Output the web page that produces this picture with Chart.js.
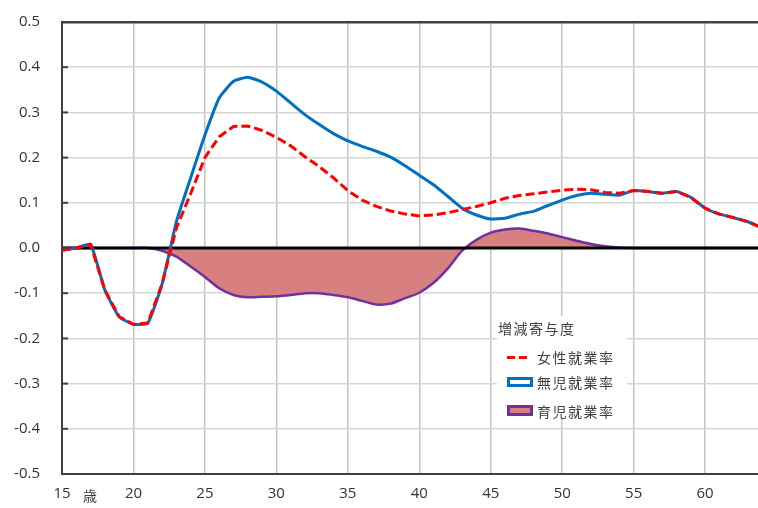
<!DOCTYPE html>
<html>
<head>
<meta charset="utf-8">
<script src="https://cdn.jsdelivr.net/npm/chart.js@4"></script>
<style>
  body { margin: 0; background: #fff; }
  #wrap { position: relative; width: 758px; height: 508px; }
  #c { display: block; }
  #legend {
    position: absolute; left: 497px; top: 316px; width: 130px; height: 102px;
    background: #fff; font-family: "Noto Sans CJK JP", sans-serif; font-size: 14px; color: #404040;
  }
  #legend .title { position: absolute; left: 1px; top: 2px; letter-spacing: 1.5px; }
  #legend .item { position: absolute; left: 40px; letter-spacing: 1.5px; line-height: 16px; }
  #legend .sym { position: absolute; left: 10px; box-sizing: border-box; }
  .unit { position: absolute; left: 83px; top: 485px; font-family: "Noto Sans CJK JP", sans-serif; font-size: 14px; color: #404040; }
</style>
</head>
<body>
<div id="wrap">
  <canvas id="c" width="758" height="508"></canvas>
  <span class="unit">歳</span>
  <div id="legend">
    <div class="title">増減寄与度</div>
    <div class="sym" style="top:40px;width:8px;height:3px;background:#ff0000"></div>
    <div class="sym" style="top:40px;left:22px;width:8px;height:3px;background:#ff0000"></div>
    <div class="item" style="top:33px">女性就業率</div>
    <div class="sym" style="top:61px;width:26px;height:10px;border:3px solid #0070c0;background:#fff"></div>
    <div class="item" style="top:58px">無児就業率</div>
    <div class="sym" style="top:89px;width:26px;height:11px;border:3px solid #7030a0;background:#d87f7f"></div>
    <div class="item" style="top:87px">育児就業率</div>
  </div>
</div>
<script>
// ---------- Data ----------
const AGES = [15,16,17,18,19,20,21,22,23,24,25,26,27,28,29,30,31,32,33,34,35,36,37,38,39,
              40,41,42,43,44,45,46,47,48,49,50,51,52,53,54,55,56,57,58,59,60,61,62,63,64];

const FEMALE = [-0.005,0.000,0.008,-0.093,-0.152,-0.169,-0.166,-0.080,0.044,0.120,
                0.200,0.246,0.269,0.270,0.260,0.245,0.226,0.202,0.180,0.155,
                0.127,0.106,0.092,0.082,0.075,0.071,0.073,0.078,0.085,0.092,
                0.100,0.110,0.116,0.120,0.124,0.128,0.130,0.129,0.123,0.121,
                0.127,0.125,0.121,0.125,0.112,0.088,0.075,0.067,0.058,0.044];

const NO_CHILD = [-0.005,0.000,0.008,-0.093,-0.152,-0.169,-0.166,-0.080,0.058,0.155,
                  0.250,0.332,0.369,0.378,0.367,0.347,0.321,0.295,0.273,0.253,
                  0.237,0.225,0.214,0.201,0.182,0.161,0.140,0.114,0.088,0.073,
                  0.064,0.066,0.075,0.081,0.094,0.106,0.116,0.121,0.119,0.117,
                  0.127,0.125,0.121,0.125,0.112,0.088,0.075,0.067,0.058,0.044];

const CHILD = [0,0,0,0,0,0,0,-0.006,-0.019,-0.041,
               -0.064,-0.089,-0.104,-0.109,-0.108,-0.107,-0.104,-0.100,-0.100,-0.104,
               -0.109,-0.117,-0.125,-0.123,-0.111,-0.099,-0.077,-0.045,-0.006,0.018,
               0.034,0.041,0.043,0.038,0.032,0.024,0.016,0.009,0.004,0.001,
               0,0,0,0,0,0,0,0,0,0];

const X_TICKS = [15,20,25,30,35,40,45,50,55,60];

const pts = arr => arr.map((v, i) => ({ x: AGES[i], y: v }));

// zero line drawn over the purple fill, under blue/red
const zeroLine = {
  id: 'zeroLine',
  afterDatasetDraw(chart, args) {
    if (args.index !== 2) return;
    const { ctx, chartArea } = chart;
    const y = chart.scales.y.getPixelForValue(0);
    ctx.save();
    ctx.strokeStyle = '#000';
    ctx.lineWidth = 3;
    ctx.beginPath();
    ctx.moveTo(chartArea.left, y);
    ctx.lineTo(chartArea.right, y);
    ctx.stroke();
    ctx.restore();
  },
  afterDraw(chart) {
    // small inside tick marks on the y axis
    const { ctx, chartArea } = chart;
    const ys = chart.scales.y;
    ctx.save();
    ctx.strokeStyle = '#404040';
    ctx.lineWidth = 2;
    ys.ticks.forEach(t => {
      const y = ys.getPixelForValue(t.value);
      ctx.beginPath();
      ctx.moveTo(chartArea.left, y);
      ctx.lineTo(chartArea.left + 6, y);
      ctx.stroke();
    });
    ctx.restore();
  }
};

const tickFont = { family: '"Open Sans", sans-serif', size: 15 };

new Chart(document.getElementById('c'), {
  type: 'line',
  data: {
    datasets: [
      { label: '女性就業率', data: pts(FEMALE), borderColor: '#ff0000', borderWidth: 3,
        borderDash: [9, 4], pointRadius: 0, tension: 0, fill: false },
      { label: '無児就業率', data: pts(NO_CHILD), borderColor: '#0070c0', borderWidth: 3,
        pointRadius: 0, tension: 0.15, fill: false },
      { label: '育児就業率', data: pts(CHILD), borderColor: '#7030a0', borderWidth: 2.5,
        backgroundColor: '#d87f7f', pointRadius: 0, tension: 0.3, fill: 'origin' }
    ]
  },
  options: {
    responsive: false,
    animation: false,
    layout: { padding: { top: 22, right: 0, left: 0, bottom: 0 } },
    plugins: { legend: { display: false }, tooltip: { enabled: false } },
    scales: {
      x: {
        type: 'linear', min: 15, max: 63.7,
        afterBuildTicks: s => { s.ticks = X_TICKS.map(v => ({ value: v })); },
        afterFit: s => { s.height = 34; },
        ticks: { font: tickFont, color: '#333333', padding: 0, maxRotation: 0, autoSkip: false },
        grid: { color: '#c4c4c4', lineWidth: 1.5, drawTicks: true, tickLength: 11, tickColor: 'rgba(0,0,0,0)' },
        border: { color: '#404040', width: 2 }
      },
      y: {
        min: -0.5, max: 0.5,
        ticks: {
          stepSize: 0.1, font: tickFont, color: '#333333', padding: 0,
          callback: v => Math.abs(v) < 1e-9 ? '0.0' : v.toFixed(1)
        },
        afterFit: s => { s.width = 62; },
        grid: {
          drawTicks: true, tickLength: 22, tickColor: 'rgba(0,0,0,0)',
          color: c => (c.tick && c.tick.value > 0.49) ? '#404040' : '#d6d6d6',
          lineWidth: c => (c.tick && c.tick.value > 0.49) ? 2.5 : 1.5
        },
        border: { color: '#404040', width: 2 }
      }
    }
  },
  plugins: [zeroLine]
});
</script>
</body>
</html>
